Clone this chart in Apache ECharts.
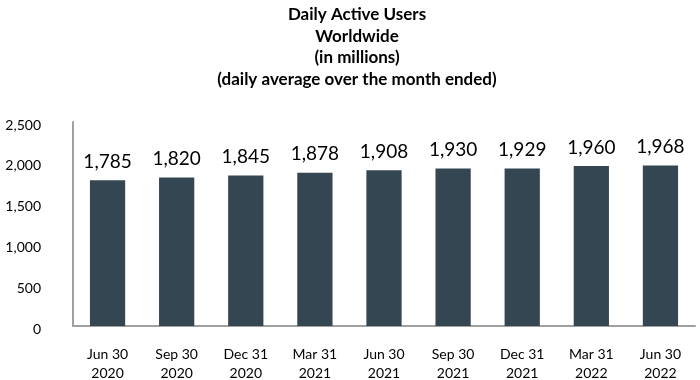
<!DOCTYPE html>
<html><head><meta charset="utf-8">
<script src="https://cdn.jsdelivr.net/npm/echarts@6/dist/echarts.min.js"></script>
<style>html,body{margin:0;padding:0;background:#fff}#c{width:700px;height:380px}</style>
</head><body><div id="c"></div>
<script>
const categories = ["Jun 30\n2020","Sep 30\n2020","Dec 31\n2020","Mar 31\n2021","Jun 30\n2021","Sep 30\n2021","Dec 31\n2021","Mar 31\n2022","Jun 30\n2022"];
const dau = [1785,1820,1845,1878,1908,1930,1929,1960,1968];
const yTicks = [0,500,1000,1500,2000,2500];
const titleLines = ["Daily Active Users","Worldwide","(in millions)","(daily average over the month ended)"];

const fmt = v => v.toLocaleString('en-US');
const chart = echarts.init(document.getElementById('c'));
chart.setOption({
  animation:false,
  textStyle:{fontFamily:'Lato'},
  title:{text:titleLines.join('\n'),left:352,textAlign:'center',top:-1,
    textStyle:{fontFamily:'Lato',fontWeight:'bold',fontSize:17,lineHeight:21.5,color:'#000'}},
  grid:{left:73,right:5,top:122,bottom:54,containLabel:false,outerBoundsMode:'none'},
  xAxis:{type:'category',data:categories,
    axisLine:{lineStyle:{color:'#a0a0a0',width:2}},
    axisTick:{show:false},
    axisLabel:{color:'#000',fontSize:14,lineHeight:19,margin:19,fontFamily:'Lato'}},
  yAxis:{type:'value',min:yTicks[0],max:yTicks[yTicks.length-1],interval:500,
    axisLine:{show:true,lineStyle:{color:'#a0a0a0',width:2}},
    axisTick:{show:false},splitLine:{show:false},
    axisLabel:{color:'#000',fontSize:14,margin:32,formatter:fmt,fontFamily:'Lato',verticalAlign:'top',lineHeight:6}},
  series:[{type:'bar',data:dau,barWidth:'51%',
    itemStyle:{color:'#344652'},
    label:{show:true,position:'top',distance:9,fontSize:19,color:'#000',fontFamily:'Lato',
      formatter:p=>fmt(p.value)}}]
});
</script></body></html>
